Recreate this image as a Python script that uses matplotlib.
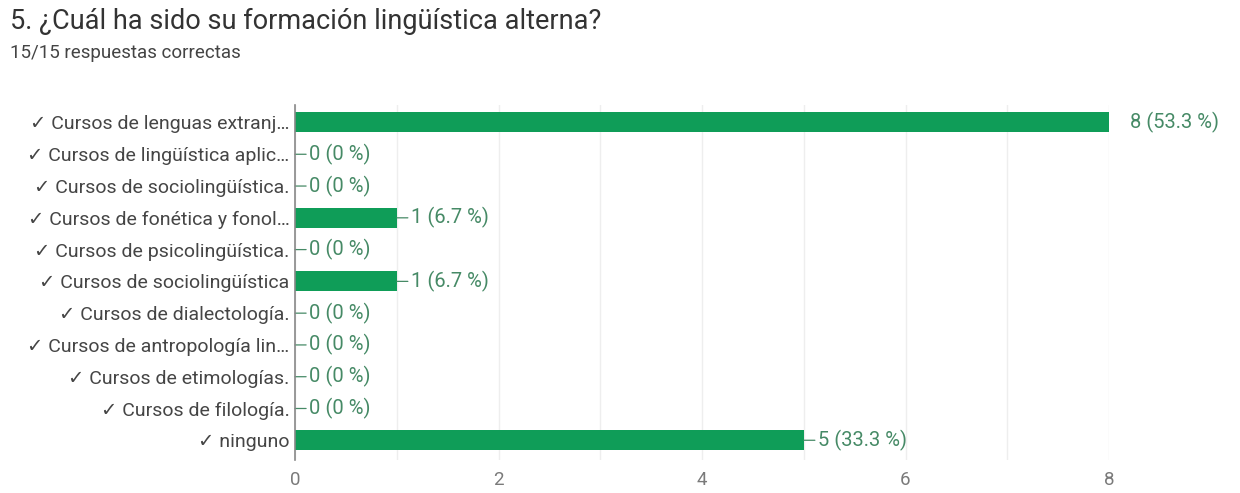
import matplotlib
matplotlib.use("Agg")
import matplotlib.pyplot as plt
from matplotlib.ticker import MultipleLocator

plt.rcParams['font.family'] = ['Roboto', 'DejaVu Sans']

title = "5. ¿Cuál ha sido su formación lingüística alterna?"
subtitle = "15/15 respuestas correctas"
total = 15

categories = [
    "✓ Cursos de lenguas extranj…",
    "✓ Cursos de lingüística aplic…",
    "✓ Cursos de sociolingüística.",
    "✓ Cursos de fonética y fonol…",
    "✓ Cursos de psicolingüística.",
    "✓ Cursos de sociolingüística",
    "✓ Cursos de dialectología.",
    "✓ Cursos de antropología lin…",
    "✓ Cursos de etimologías.",
    "✓ Cursos de filología.",
    "✓ ninguno",
]
counts = [8, 0, 0, 1, 0, 1, 0, 0, 0, 0, 5]
xticks = [0, 2, 4, 6, 8]

BAR = "#0f9d58"
VAL = "#468a66"

fig = plt.figure(figsize=(12.4, 4.93), dpi=100)
ax = fig.add_axes([0.2379, 0.067, 0.6565, 0.72])

y = list(range(len(categories)))
ax.barh(y, counts, height=0.63, color=BAR, zorder=3)

ax.set_xlim(0, 8)
ax.set_ylim(10.62, -0.55)
ax.set_yticks(y)
ax.set_yticklabels(categories, fontsize=14, color="#454545")
ax.set_xticks(xticks)
ax.set_xticklabels([str(t) for t in xticks], fontsize=13.5, color="#7a7a7a")
ax.xaxis.set_minor_locator(MultipleLocator(1))
ax.tick_params(axis="both", which="both", length=0)
ax.tick_params(axis="y", pad=4)
ax.tick_params(axis="x", pad=8)
ax.grid(axis="x", which="both", color="#eeeeee", linewidth=1, zorder=0)

for s in ["top", "right", "bottom"]:
    ax.spines[s].set_visible(False)
ax.spines["left"].set_color("#888888")
ax.spines["left"].set_linewidth(1.2)
ax.spines["left"].set_zorder(4)

# value labels, with a short leader line unless the bar fills the axis
top = max(counts)
for yi, c in zip(y, counts):
    txt = f"{c} ({c / total * 100:.1f} %)" if c else "0 (0 %)"
    if c == top:
        ax.annotate(txt, (c, yi), xytext=(15, 0), textcoords="offset points",
                    va="center", ha="left", fontsize=14.5, color=VAL,
                    annotation_clip=False)
    else:
        ax.annotate(txt, (c, yi), xytext=(10, 0), textcoords="offset points",
                    va="center", ha="left", fontsize=14.5, color=VAL,
                    annotation_clip=False,
                    arrowprops=dict(arrowstyle="-", color=VAL, lw=0.9,
                                    shrinkA=0, shrinkB=0, relpos=(0, 0.5)))

fig.text(0.008, 0.957, title, fontsize=19.5, color="#333333", va="center")
fig.text(0.008, 0.893, subtitle, fontsize=13.5, color="#444444", va="center")

fig.savefig("out.png", dpi=100, facecolor="white")
